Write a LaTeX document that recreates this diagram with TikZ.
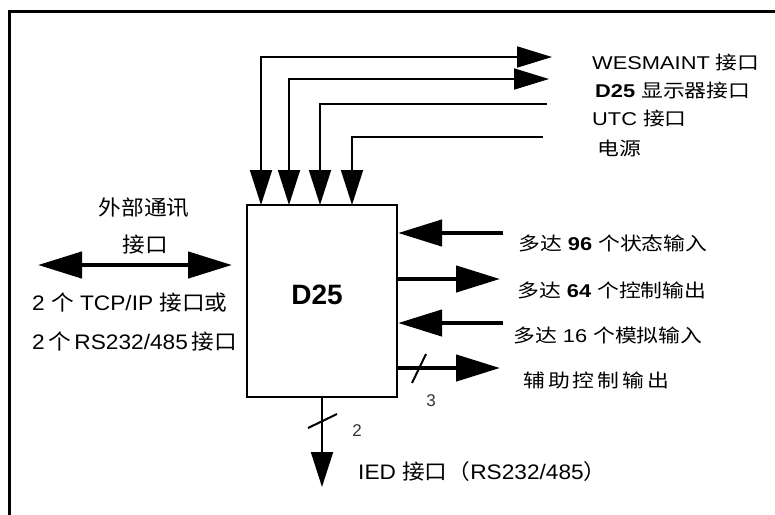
\documentclass[tikz,border=0pt]{standalone}
\usepackage{fontspec}
\setmainfont{Liberation Sans}
\newfontfamily\cjk{Noto Sans CJK SC}
\newfontfamily\sansA{Liberation Sans}[FakeStretch=1.18]
\newfontfamily\cjkA{Noto Sans CJK SC}[FakeStretch=1.18]
\newfontfamily\sansB{Liberation Sans}[FakeStretch=1.08]
\newfontfamily\cjkB{Noto Sans CJK SC}[FakeStretch=1.08]
\let\zhfont\cjk
\newcommand\zh[1]{{\zhfont #1}}
\usetikzlibrary{arrows.meta}
\tikzset{
  thin line/.style={line width=1.8pt},
  thin arrow/.style={line width=1.8pt, -{Triangle[length=35pt,width=22pt]}},
  thin both/.style={line width=1.8pt, {Triangle[length=35pt,width=21pt]}-{Triangle[length=35pt,width=22pt]}},
  thick arrow/.style={line width=4.5pt, -{Triangle[length=44pt,width=26pt]}},
  thick both/.style={line width=4.5pt, {Triangle[length=44pt,width=26pt]}-{Triangle[length=44pt,width=26pt]}},
  slash/.style={line width=2pt},
  lbl/.style={inner sep=0pt, anchor=west, font=\fontsize{18.5}{21}\selectfont\sansA\let\zhfont\cjkA},
  biglbl/.style={inner sep=0pt, font=\fontsize{21}{23}\selectfont\sansB\let\zhfont\cjkB},
  num/.style={inner sep=0pt, font=\fontsize{17}{19}\selectfont, text=black!80},
  boxtext/.style={inner sep=0pt, font=\fontsize{28}{30}\selectfont\bfseries},
}
\begin{document}
\begin{tikzpicture}[x=1pt,y=-1pt]
\useasboundingbox (0,0) rectangle (775,514);
% frame
\draw[line width=3pt] (9,560) -- (9,11.5) -- (800,11.5);
% main box
\node[draw, line width=2.2pt, minimum width=150pt, minimum height=192pt, inner sep=0pt] (d25) at (322,301) {};
\node[boxtext] (d25t) at (317,295) {D25};
% top connectors
\coordinate (w1) at (552,57);
\coordinate (w2) at (549,79);
\coordinate (w3) at (547,104);
\coordinate (w4) at (543,137);
\coordinate (a1) at (261,205);
\coordinate (a2) at (289,205);
\coordinate (a3) at (320,205);
\coordinate (a4) at (352,205);
\draw[thin both] (w1) -| (a1);
\draw[thin both] (w2) -| (a2);
\draw[thin arrow] (w3) -| (a3);
\draw[thin arrow] (w4) -| (a4);
% top right labels
\node[lbl] (l1) at (592,62) {WESMAINT \zh{接口}};
\node[lbl] (l2) at (595,90) {\textbf{D25} \zh{显示器接口}};
\node[lbl] (l3) at (592,118) {UTC \zh{接口}};
\node[lbl] (l4) at (597,148) {\zh{电源}};
% right side arrows
\coordinate (r1) at (503,233);
\coordinate (r2) at (500,279);
\coordinate (r3) at (503,323);
\coordinate (r4) at (500,368);
\draw[thick arrow] (r1) -- (r1 -| d25.east);
\draw[thick arrow] (r2 -| d25.east) -- (r2);
\draw[thick arrow] (r3) -- (r3 -| d25.east);
\draw[thick arrow] (r4 -| d25.east) -- (r4);
\coordinate (s3a) at (412,383);
\coordinate (s3b) at (426,354);
\draw[slash] (s3a) -- (s3b);
\node[num] (n3) at (431,401) {3};
% right labels
\node[lbl] (t1) at (518,243) {\zh{多达} \textbf{96} \zh{个状态输入}};
\node[lbl] (t2) at (517,290) {\zh{多达} \textbf{64} \zh{个控制输出}};
\node[lbl] (t3) at (513,335) {\zh{多达} 16 \zh{个模拟输入}};
\node[lbl] (t4) at (523,380) {\zh{辅\hspace{3pt}助\hspace{3pt}控\hspace{3pt}制\hspace{3pt}输\hspace{3pt}出}};
% left double arrow
\coordinate (e1) at (38,265);
\coordinate (e2) at (232,265);
\draw[thick both] (e1) -- (e2);
\node[biglbl] (x1) at (144,208) {\zh{外部通讯}};
\node[biglbl] (x2) at (145,245) {\zh{接口}};
\node[biglbl, anchor=west] (x3) at (32,303) {2 \zh{个} TCP/IP \zh{接口或}};
\node[biglbl, anchor=west] (x4) at (32,342) {2\,\zh{个}\,RS232/485\,\zh{接口}};
% bottom arrow
\coordinate (ied) at (322,487);
\draw[thin arrow] (d25.south) -- (ied);
\coordinate (s2a) at (308,428);
\coordinate (s2b) at (337,414);
\draw[slash] (s2a) -- (s2b);
\node[num] (n2) at (357,431) {2};
\node[biglbl, anchor=west] (iedl) at (358,472) {IED \zh{接口（}RS232/485\zh{）}};
\end{tikzpicture}
\end{document}
